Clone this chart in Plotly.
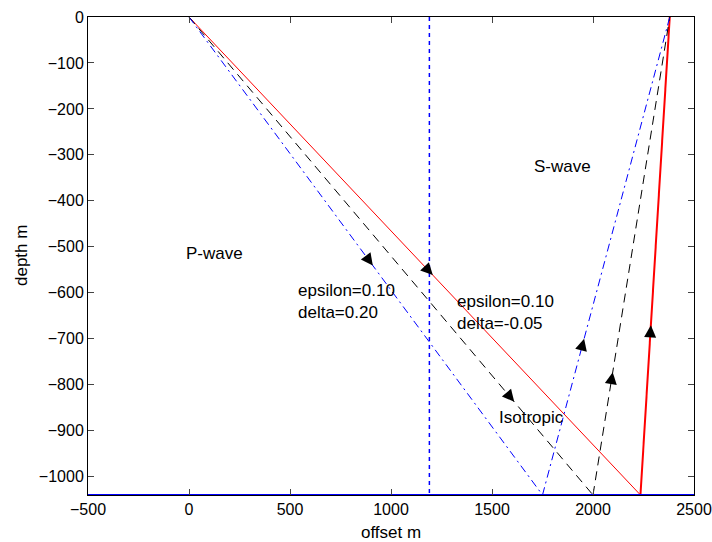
import plotly.graph_objects as go

# ---- data ----
source_x = 0.0
surface_y = 0.0
reflector_depth = -1040.0
receiver_x = 2380.0
# reflection points (offset) for each model
models = ["anisotropic (eps=0.10, delta=-0.05)", "isotropic", "anisotropic (eps=0.10, delta=0.20)"]
reflect_x = [2235.0, 2000.0, 1750.0]
colors = ["red", "black", "blue"]
dashes = ["solid", "9px,6px", "8px,4px,2px,4px"]
s_widths = [2, 1, 1]
# arrow positions as fraction along the P leg and S leg
p_arrow_frac = [0.54, 0.805, 0.52]
s_arrow_frac = [0.355, 0.257, 0.327]
vline_x = 1190.0
x_ticks = [-500, 0, 500, 1000, 1500, 2000, 2500]
y_ticks = [0, -100, -200, -300, -400, -500, -600, -700, -800, -900, -1000]

labels = [
    ("P-wave", 125, -515, "center"),
    ("S-wave", 1850, -325, "center"),
    ("epsilon=0.10<br>delta=0.20", 530, -618, "left"),
    ("epsilon=0.10<br>delta=-0.05", 1315, -644, "left"),
    ("Isotropic", 1525, -872, "left"),
]

FONT = "Liberation Sans, Arial, Helvetica, sans-serif"
FS = 16

# plot area at x 88-694, y 17-495 of a 712x542 page (body margin removed below)
W, H = 712, 542
ML, MR, MT, MB = 88, 18, 17, 47
plot_w = W - ML - MR
plot_h = H - MT - MB

fig = go.Figure()
for rx, c, d, sw in zip(reflect_x, colors, dashes, s_widths):
    fig.add_trace(go.Scatter(x=[source_x, rx], y=[surface_y, reflector_depth], mode="lines",
                             line=dict(color=c, dash=d, width=1), showlegend=False, hoverinfo="skip"))
    fig.add_trace(go.Scatter(x=[rx, receiver_x], y=[reflector_depth, surface_y], mode="lines",
                             line=dict(color=c, dash=d, width=sw), showlegend=False, hoverinfo="skip"))

# vertical dotted line
fig.add_trace(go.Scatter(x=[vline_x, vline_x], y=[surface_y, reflector_depth], mode="lines",
                         line=dict(color="#0000ff", dash="4px,4px", width=1.5), showlegend=False, hoverinfo="skip"))
# reflector (bottom) line
fig.add_trace(go.Scatter(x=[x_ticks[0], x_ticks[-1]], y=[reflector_depth, reflector_depth], mode="lines",
                         line=dict(color="blue", width=2), showlegend=False, hoverinfo="skip"))

annotations = []
def arrow(x0, y0, x1, y1, f):
    tx = x0 + (x1 - x0) * f
    ty = y0 + (y1 - y0) * f
    bx = x0 + (x1 - x0) * (f - 0.02)
    by = y0 + (y1 - y0) * (f - 0.02)
    annotations.append(dict(x=tx, y=ty, ax=bx, ay=by, xref="x", yref="y", axref="x", ayref="y",
                            text="", showarrow=True, arrowhead=2, arrowsize=1.6, arrowwidth=1.5,
                            arrowcolor="black", standoff=0, startstandoff=0))

for rx, pf, sf in zip(reflect_x, p_arrow_frac, s_arrow_frac):
    arrow(source_x, surface_y, rx, reflector_depth, pf)
    arrow(rx, reflector_depth, receiver_x, surface_y, sf)

for t, x, y, al in labels:
    annotations.append(dict(x=x, y=y, xref="x", yref="y", text=t, showarrow=False,
                            xanchor="left" if al == "left" else "center", align="left",
                            font=dict(family=FONT, size=17, color="black")))

# axis titles
annotations.append(dict(x=0.5, y=-(532 - 495) / plot_h, xref="paper", yref="paper", text="offset m",
                        showarrow=False, xanchor="center", yanchor="middle", font=dict(family=FONT, size=17)))
annotations.append(dict(x=-(88 - 21) / plot_w, y=0.5, xref="paper", yref="paper", text="depth m",
                        showarrow=False, textangle=-90, xanchor="center", yanchor="middle",
                        font=dict(family=FONT, size=17)))

fig.update_layout(
    width=W, height=H,
    margin=dict(l=ML, r=MR, t=MT, b=MB, autoexpand=False),
    paper_bgcolor="white", plot_bgcolor="white",
    font=dict(family=FONT, size=FS, color="black"),
    annotations=annotations,
    xaxis=dict(range=[-500, 2500], tickvals=x_ticks, ticks="inside", ticklen=6, showline=True,
               linecolor="black", linewidth=1, mirror="ticks", showgrid=False, zeroline=False,
               automargin=False, tickfont=dict(size=FS), ticklabeloverflow="allow"),
    yaxis=dict(range=[reflector_depth, 0], tickvals=y_ticks, ticks="inside", ticklen=6, showline=True,
               linecolor="black", linewidth=1, mirror="ticks", showgrid=False, zeroline=False,
               automargin=False, tickfont=dict(size=FS), ticklabeloverflow="allow"),
)

fig.write_html("out.html", config={"displayModeBar": False},
               post_script="document.body.style.margin='0';document.body.style.overflow='hidden';")
